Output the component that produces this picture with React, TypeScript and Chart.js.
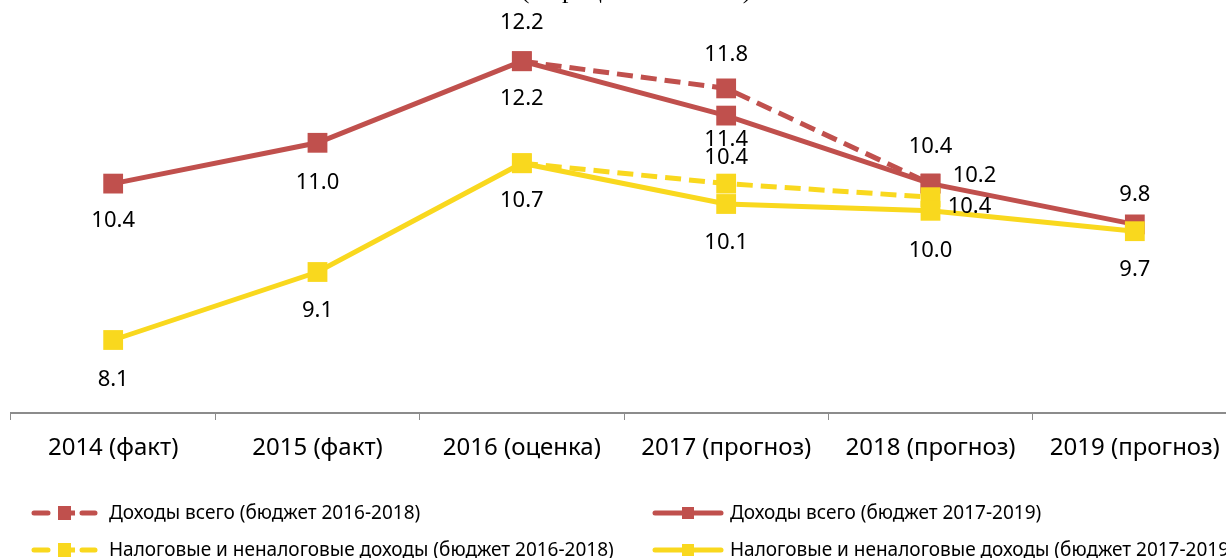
import React, { useEffect, useRef } from "react";
import { Chart, registerables } from "chart.js";

Chart.register(...registerables);

const categories = ["2014 (факт)", "2015 (факт)", "2016 (оценка)", "2017 (прогноз)", "2018 (прогноз)", "2019 (прогноз)"];
const incomeOld: (number | null)[] = [null, null, 12.2, 11.8, 10.4, null];
const incomeNew: (number | null)[] = [10.4, 11.0, 12.2, 11.4, 10.4, 9.8];
const taxOld: (number | null)[] = [null, null, 10.7, 10.4, 10.2, null];
const taxNew: (number | null)[] = [8.1, 9.1, 10.7, 10.1, 10.0, 9.7];
const seriesNames = [
  "Доходы всего (бюджет 2016-2018)",
  "Доходы всего (бюджет 2017-2019)",
  "Налоговые и неналоговые доходы (бюджет 2016-2018)",
  "Налоговые и неналоговые доходы (бюджет 2017-2019)",
];
const titleText = "(в процентах к ВВП)";

const RED = "#C0504D";
const YELLOW = "#F9D81E";
const FONT = '"Noto Sans", sans-serif';

// label offsets (dx, dy) from point center, per dataset, per point; null = no label
const labelOffsets: ([number, number] | null)[][] = [
  [null, null, [0, -38], [0, -34], [0, -37], null],
  [[0, 37], [0, 40], [0, 38], [0, 24], [39, 23], [0, -30]],
  [null, null, null, [0, -26], [44, -21], null],
  [[0, 40], [0, 39], [0, 38], [0, 39], [0, 40], [0, 39]],
];

const labelsPlugin = {
  id: "pointLabels",
  afterDatasetsDraw(chart: any) {
    const ctx = chart.ctx;
    ctx.save();
    ctx.font = `22px ${FONT}`;
    ctx.fillStyle = "#000";
    ctx.textAlign = "center";
    ctx.textBaseline = "middle";
    chart.data.datasets.forEach((ds: any, di: number) => {
      const meta = chart.getDatasetMeta(di);
      meta.data.forEach((pt: any, i: number) => {
        const v = ds.data[i];
        const off = labelOffsets[di][i];
        if (v == null || !off) return;
        ctx.fillText(v.toFixed(1), pt.x + off[0], pt.y + off[1]);
      });
    });
    ctx.restore();
  },
};

const legendPlugin = {
  id: "customLegend",
  afterDraw(chart: any) {
    const ctx = chart.ctx;
    ctx.save();
    // title (mostly clipped at top)
    ctx.font = '26px "Liberation Serif", serif';
    ctx.fillStyle = "#000";
    ctx.textAlign = "center";
    ctx.textBaseline = "alphabetic";
    ctx.fillText(titleText, 636, -2);

    const items = [
      { x: 32, y: 513, color: RED, dashed: true, name: seriesNames[0] },
      { x: 653, y: 513, color: RED, dashed: false, name: seriesNames[1] },
      { x: 32, y: 550, color: YELLOW, dashed: true, name: seriesNames[2] },
      { x: 653, y: 550, color: YELLOW, dashed: false, name: seriesNames[3] },
    ];
    items.forEach((it) => {
      ctx.strokeStyle = it.color;
      ctx.fillStyle = it.color;
      ctx.lineWidth = 5;
      ctx.lineCap = "round";
      ctx.beginPath();
      if (it.dashed) {
        ctx.moveTo(it.x + 2, it.y);
        ctx.lineTo(it.x + 16, it.y);
        ctx.moveTo(it.x + 50, it.y);
        ctx.lineTo(it.x + 63, it.y);
        ctx.stroke();
        ctx.fillRect(it.x + 26, it.y - 7, 13, 14);
        ctx.fillRect(it.x + 40 - 3, it.y - 2.5, 6, 5);
      } else {
        ctx.moveTo(it.x + 2, it.y);
        ctx.lineTo(it.x + 68, it.y);
        ctx.stroke();
        ctx.fillRect(it.x + 29, it.y - 6, 12, 12);
      }
      ctx.fillStyle = "#000";
      ctx.font = `19px ${FONT}`;
      ctx.textAlign = "left";
      ctx.textBaseline = "middle";
      ctx.fillText(it.name, it.dashed ? 109 : 730, it.y + 1);
    });
    ctx.restore();
  },
};

export default function App() {
  const ref = useRef<HTMLCanvasElement | null>(null);
  useEffect(() => {
    document.body.style.margin = "0";
    const canvas = ref.current!;
    const mk = (label: string, data: (number | null)[], color: string, dashed: boolean, order: number) => ({
      label,
      data,
      borderColor: color,
      backgroundColor: color,
      borderWidth: 5,
      borderDash: dashed ? [16, 8] : [],
      pointStyle: "rect",
      pointRadius: 14,
      pointBorderWidth: 0,
      pointBackgroundColor: color,
      tension: 0,
      order,
    });
    const chart = new Chart(canvas, {
      type: "line",
      data: {
        labels: categories,
        datasets: [
          mk(seriesNames[0], incomeOld, RED, true, 4),
          mk(seriesNames[1], incomeNew, RED, false, 3),
          mk(seriesNames[2], taxOld, YELLOW, true, 2),
          mk(seriesNames[3], taxNew, YELLOW, false, 1),
        ] as any,
      },
      options: {
        responsive: false,
        animation: false,
        layout: { autoPadding: false, padding: { left: 11, right: 3, top: 0, bottom: 85 } },
        plugins: { legend: { display: false }, tooltip: { enabled: false }, title: { display: false } },
        scales: {
          x: {
            type: "category",
            offset: true,
            afterFit: (s: any) => {
              s.height = 60;
            },
            border: { display: true, color: "#8C8C8C", width: 2 },
            grid: {
              offset: true,
              drawOnChartArea: false,
              drawTicks: true,
              tickLength: 7,
              color: "#8C8C8C",
              lineWidth: 1,
            },
            ticks: { color: "#000", font: { family: "Noto Sans", size: 24 }, padding: 14, maxRotation: 0, autoSkip: false },
          },
          y: { display: false, min: 7.0265, max: 13.1 },
        },
      } as any,
      plugins: [labelsPlugin, legendPlugin],
    });
    return () => chart.destroy();
  }, []);
  return (
    <div style={{ width: 1226, height: 558, overflow: "hidden" }}>
      <canvas ref={ref} width={1240} height={558} style={{ display: "block" }} />
    </div>
  );
}
